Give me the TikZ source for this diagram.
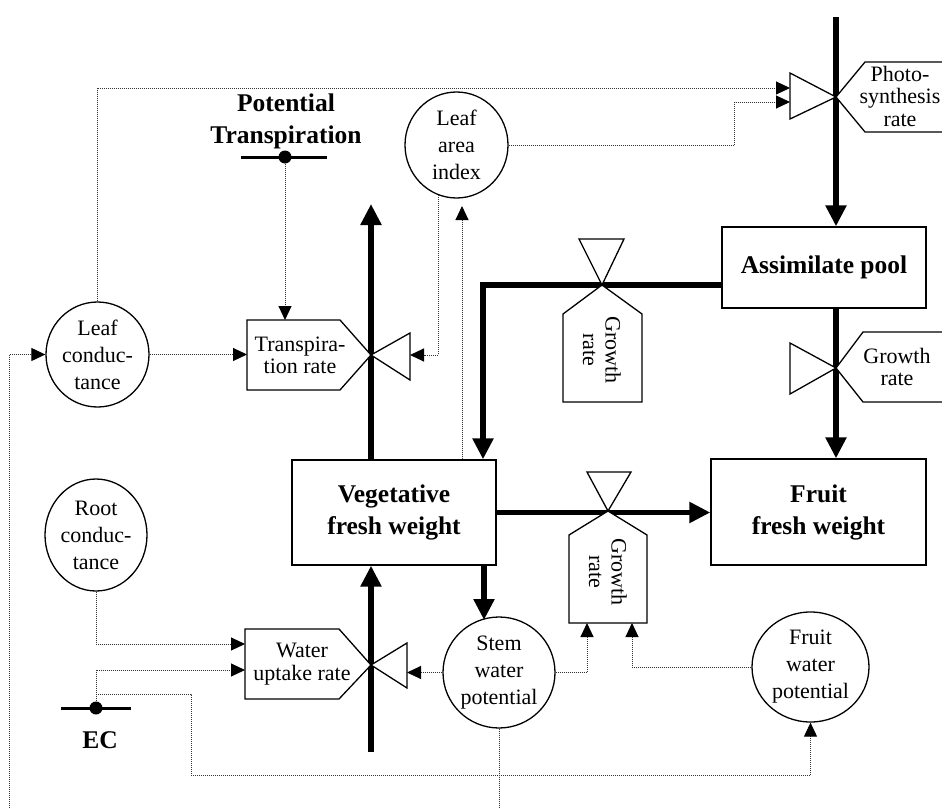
\documentclass[tikz,border=0pt]{standalone}
\usepackage{fontspec}
\setmainfont{Liberation Serif}
\usetikzlibrary{arrows.meta,shapes.geometric}
\begin{document}
\begin{tikzpicture}[x=1pt,y=-1pt,
  rg/.style={font=\fontsize{22}{27}\selectfont, align=center, inner sep=0pt},
  pg/.style={font=\fontsize{22}{22.5}\selectfont, align=center, inner sep=0pt},
  bd/.style={font=\fontsize{25.5}{32}\selectfont\bfseries, align=center, inner sep=0pt},
  circ/.style={ellipse, draw, line width=1.3pt, rg, inner sep=0pt},
  box/.style={rectangle, draw, line width=1.3pt, bd},
  shp/.style={draw, line width=1.3pt, line join=miter, fill=white},
  thk/.style={line width=5.5pt, line join=miter, -{Triangle[length=21pt,width=20pt]}},
  dotl/.style={line width=1pt, black!80, dash pattern=on 1pt off 1pt},
  dota/.style={dotl, -{Triangle[length=14pt,width=13pt,color=black]}},
  srcdot/.style={circle, fill, inner sep=0pt, minimum size=13pt},
]
\useasboundingbox (0,0) rectangle (942,808);
\begin{scope}
\clip (0,0) rectangle (942,808);

% ---------- state boxes ----------
\node[box, minimum width=204pt, minimum height=81pt] (ap) at (824,267.5) {Assimilate pool};
\node[box, minimum width=204pt, minimum height=105pt] (veg) at (394,512.5) {Vegetative\\fresh weight};
\node[box, minimum width=215pt, minimum height=106pt] (fruit) at (818.5,512) {Fruit\\fresh weight};

% ---------- auxiliary circles ----------
\node[circ, minimum width=103pt, minimum height=105pt] (lc) at (97.5,354.5) {Leaf\\conduc-\\tance};
\node[circ, minimum width=103pt, minimum height=106pt] (lai) at (456.5,145) {Leaf\\area\\index};
\node[circ, minimum width=102pt, minimum height=112pt] (rc) at (96,535) {Root\\conduc-\\tance};
\node[circ, minimum width=112pt, minimum height=111pt] (swp) at (499,672.5) {Stem\\water\\potential};
\node[circ, minimum width=117pt, minimum height=110pt] (fwp) at (810.5,667) {Fruit\\water\\potential};

% ---------- sources ----------
\node[bd] (pt) at (286,121) {Potential\\Transpiration};
\draw[line width=3pt] (241,157) -- (327,157);
\node[srcdot] (ptdot) at (285,157) {};
\node[bd] (ec) at (100,740) {EC};
\draw[line width=3pt] (61,708) -- (131,708);
\node[srcdot] (ecdot) at (96,708) {};

% ---------- thick flows ----------
\coordinate (phtop) at (836,17);
\draw[thk] (phtop) -- (phtop |- ap.north);
\draw[thk] (ap.south -| phtop) -- (fruit.north -| phtop);
\draw[thk] (ap.west |- 0,285) -| (veg.north -| 483,0);
\draw[thk] (veg.east) -- (fruit.west |- veg.east);
\draw[thk] (veg.north -| 371,0) -- (371,204);
\coordinate (vegin) at (371,752);
\draw[thk] (vegin) -- (vegin |- veg.south);
\draw[thk] (veg.south -| 484,0) -- (484,620);

% ---------- valves ----------
% transpiration
\draw[shp] (247,320) -- (340,320) -- (371,355) -- (340,390) -- (247,390) -- cycle;
\draw[shp] (371,355) -- (410,333) -- (410,380) -- cycle;
\node[pg] (tr) at (300,355.5) {Transpira-\\tion rate};
% water uptake
\draw[shp] (245,629) -- (339,629) -- (371,665) -- (339,699) -- (245,699) -- cycle;
\draw[shp] (371,665) -- (407,643) -- (407,688) -- cycle;
\node[pg] (wu) at (302,664) {Water\\uptake rate};
% photosynthesis
\draw[shp] (960,62) -- (865,62) -- (836,97) -- (865,132) -- (960,132);
\draw[shp] (836,97) -- (790,73) -- (790,119) -- cycle;
\node[pg] (ph) at (900,96) {Photo-\\synthesis\\rate};
% growth rate to fruit (from pool)
\draw[shp] (960,332) -- (863,332) -- (836,368) -- (863,402) -- (960,402);
\draw[shp] (836,368) -- (790,343) -- (790,394) -- cycle;
\node[pg] (gr) at (897,367) {Growth\\rate};
% growth rate pool -> vegetative
\draw[shp] (602,285) -- (642,314) -- (642,402) -- (563,402) -- (563,314) -- cycle;
\draw[shp] (602,285) -- (579,239) -- (624,239) -- cycle;
\node[pg, rotate=-90] (g1) at (602,350) {Growth\\rate};
% growth rate vegetative -> fruit
\draw[shp] (608,511) -- (647,535) -- (647,623) -- (569,623) -- (569,535) -- cycle;
\draw[shp] (608,511) -- (587,472) -- (631,472) -- cycle;
\node[pg, rotate=-90] (g2) at (608,572) {Growth\\rate};

% ---------- information links ----------
\coordinate (lcloop) at (9,808);
\coordinate (trL) at (247,355);
\coordinate (trT) at (285,320);
\coordinate (trR) at (410,355);
\coordinate (phA) at (790,88);
\coordinate (phB) at (790,102);
\coordinate (laiIn) at (462,206);
\coordinate (wuA) at (245,644);
\coordinate (wuB) at (245,670);
\coordinate (wuR) at (407,666);
\coordinate (g2L) at (587,623);
\coordinate (g2R) at (632,623);

\draw[dota] (lcloop) |- (lc.west);
\draw[dota] (lc.east) -- (lc.east -| trL);
\draw[dota] (lc.north) |- (phA);
\draw[dota] (ptdot) -- (trT);
\draw[dota] (lai.250) |- (trR);
\draw[dota] (veg.north -| laiIn) -- (laiIn);
\draw[dota] (lai.east) -- ++(226,0) |- (phB);
\draw[dota] (rc.south) |- (wuA);
\draw[dota] (ecdot) |- (wuB);
\draw[dota] (ecdot |- 0,694) -| (191,775) -| (fwp.south);
\draw[dota] (swp.west) -- (swp.west -| wuR);
\draw[dota] (swp.east) -| (g2L);
\draw[dota] (fwp.west) -| (g2R);
\draw[dotl] (swp.south) -- (swp.south |- lcloop);
\end{scope}
\end{tikzpicture}
\end{document}
